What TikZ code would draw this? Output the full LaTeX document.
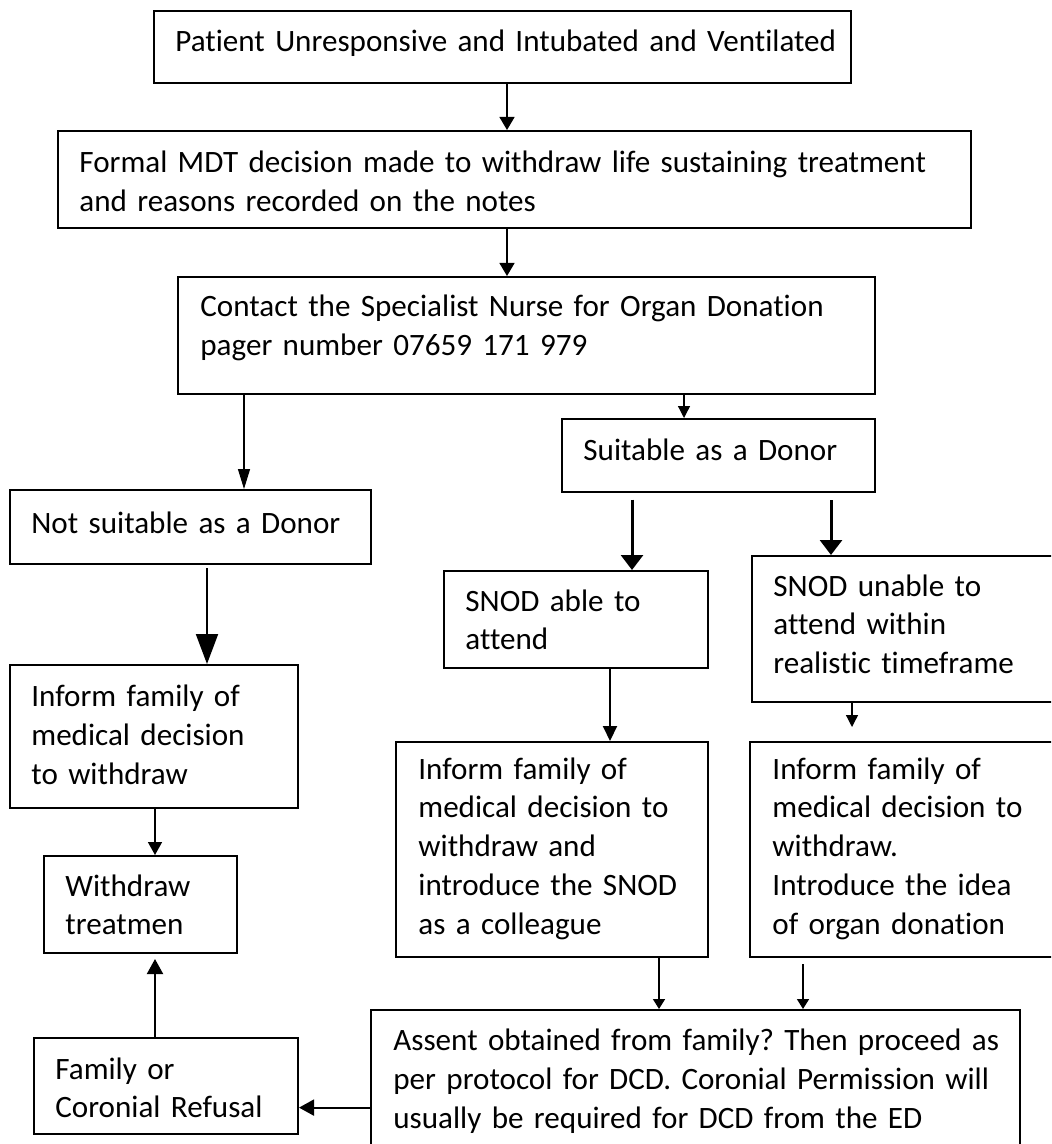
\documentclass[tikz,border=0pt]{standalone}
\usepackage{fontspec}
\setmainfont{Carlito}[Ligatures={NoCommon}]
\usetikzlibrary{arrows.meta}
\hyphenpenalty=10000
\exhyphenpenalty=10000
\frenchspacing
\tikzset{
  box/.style={draw=black, line width=1pt, inner sep=0pt, fill=white},
  txt/.style={anchor=base west, inner sep=0pt, align=left,
    font=\fontsize{15.55}{19.4}\selectfont\frenchspacing},
  arrS/.style={line width=0.65pt, -{Triangle[width=7.5pt,length=6.5pt]}},
  arrN/.style={line width=0.65pt, -{Triangle[width=6pt,length=10pt]}},
  arrT/.style={line width=0.65pt, -{Triangle[width=6pt,length=6pt]}},
  arrBig/.style={line width=1pt, -{Triangle[width=11pt,length=15pt]}},
  arrThick/.style={line width=1.5pt, -{Triangle[width=11pt,length=7.5pt]}},
  arrM/.style={line width=1pt, -{Triangle[width=7pt,length=7.5pt]}},
  arrMS/.style={line width=0.75pt, -{Triangle[width=7pt,length=6.5pt]}},
  arrU/.style={line width=1pt, -{Triangle[width=8pt,length=7.5pt]}},
  arrB/.style={line width=0.75pt, -{Triangle[width=6pt,length=5pt]}}
}
\begin{document}
\begin{tikzpicture}[x=0.5pt,y=-0.5pt]
\useasboundingbox (0,0) rectangle (1051,1144);
\clip (0,0) rectangle (1051,1144);
\fill[white] (0,0) rectangle (1051,1144);

% boxes
\node[box, minimum width=348.5pt, minimum height=36pt] (b1) at (502.5,47) {};
\node[box, minimum width=456.5pt, minimum height=48.5pt] (b2) at (514.5,179.5) {};
\node[box, minimum width=348.5pt, minimum height=58.5pt] (b3) at (526.5,335.5) {};
\node[box, minimum width=180.5pt, minimum height=37pt] (nots) at (190.5,527) {};
\node[box, minimum width=156.5pt, minimum height=36.5pt] (suit) at (718.5,455.5) {};
\node[box, minimum width=144pt, minimum height=71.5pt] (infL) at (154,736.5) {};
\node[box, minimum width=132pt, minimum height=48.5pt] (able) at (576,619.5) {};
\node[box, minimum width=164pt, minimum height=73pt] (unable) at (916,629) {};
\node[box, minimum width=156pt, minimum height=107.5pt] (inf2) at (552,849.5) {};
\node[box, minimum width=165pt, minimum height=107.5pt] (inf3) at (915,849.5) {};
\node[box, minimum width=96.5pt, minimum height=48.5pt] (withd) at (140.5,904.5) {};
\node[box, minimum width=132pt, minimum height=48pt] (fam) at (166,1086) {};
\node[box, minimum width=324.5pt, minimum height=80pt] (assent) at (695.5,1090) {};

% texts
\node[txt, text width=340pt] (t1) at (175,52) {Patient Unresponsive and Intubated and Ventilated};
\node[txt, text width=445pt] (t2) at (79,173) {Formal MDT decision made to withdraw life sustaining treatment\\and reasons recorded on the notes};
\node[txt, text width=335pt] (t3) at (200,317) {Contact the Specialist Nurse for Organ Donation\\pager number 07659 171 979};
\node[txt, text width=168pt] (tn) at (31,533) {Not suitable as a Donor};
\node[txt, text width=144pt] (ts) at (583,460.5) {Suitable as a Donor};
\node[txt, text width=132pt] (tl) at (31,706.5) {Inform family of\\medical decision\\to withdraw};
\node[txt, text width=120pt] (ta) at (465,611) {SNOD able to\\attend};
\node[txt, text width=138pt] (tu) at (773,596) {SNOD unable to\\attend within\\realistic timeframe};
\node[txt, text width=142pt] (ti2) at (418,779) {Inform family of\\medical decision to\\withdraw and\\introduce the SNOD\\as a colleague};
\node[txt, text width=138pt] (ti3) at (772,779) {Inform family of\\medical decision to\\withdraw.\\Introduce the idea\\of organ donation};
\node[txt, text width=85pt] (tw) at (65,896) {Withdraw\\treatmen};
\node[txt, text width=120pt] (tf) at (55,1079) {Family or\\Coronial Refusal};
\node[txt, text width=312pt] (tas) at (393,1050.6) {Assent obtained from family? Then proceed as\\per protocol for DCD. Coronial Permission will\\usually be required for DCD from the ED};

% connector x positions
\coordinate (x1) at (507,0);
\coordinate (x3) at (244,0);
\coordinate (x4) at (684,0);
\coordinate (x5) at (207,0);
\coordinate (x6) at (632,0);
\coordinate (x7) at (831,0);
\coordinate (x8) at (610,0);
\coordinate (x9) at (852,0);
\coordinate (x10) at (155,0);
\coordinate (x13) at (659,0);
\coordinate (x14) at (803,0);
\coordinate (y12) at (0,1107.6);

% connectors
\draw[arrS] (b1.south -| x1) -- (b2.north -| x1);
\draw[arrS] (b2.south -| x1) -- (b3.north -| x1);
\draw[arrN] (b3.south -| x3) -- (nots.north -| x3);
\draw[arrT] (b3.south -| x4) -- (suit.north -| x4);
\draw[arrBig, shorten <=1.5pt] (nots.south -| x5) -- (infL.north -| x5);
\draw[arrThick, shorten <=3.25pt] (suit.south -| x6) -- (able.north -| x6);
\draw[arrThick, shorten <=3.5pt] (suit.south -| x7) -- (unable.north -| x7);
\draw[arrM] (able.south -| x8) -- (inf2.north -| x8);
\draw[arrT, shorten >=7pt] (unable.south -| x9) -- (inf3.north -| x9);
\draw[arrMS] (infL.south -| x10) -- (withd.north -| x10);
\draw[arrU, shorten >=2.5pt] (fam.north -| x10) -- (withd.south -| x10);
\draw[arrU] (assent.west |- y12) -- (fam.east |- y12);
\draw[arrB] (inf2.south -| x13) -- (assent.north -| x13);
\draw[arrB, shorten <=3pt] (inf3.south -| x14) -- (assent.north -| x14);
\end{tikzpicture}
\end{document}
